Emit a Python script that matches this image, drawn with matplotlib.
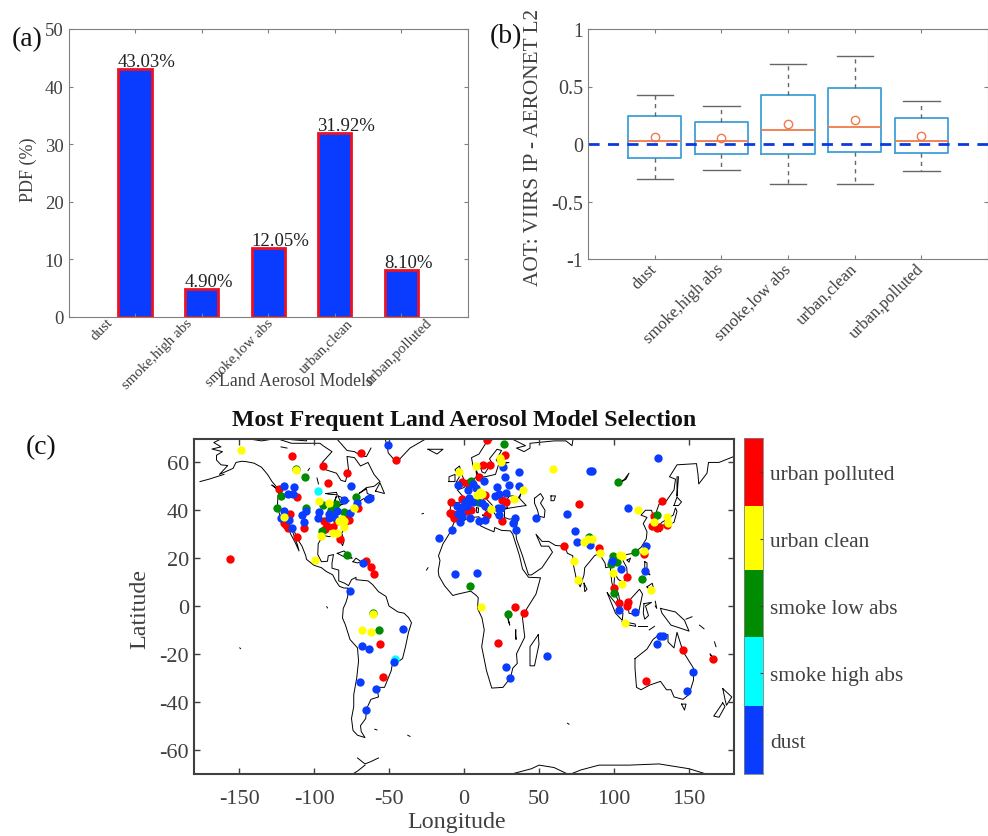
import matplotlib
matplotlib.use("Agg")
import matplotlib.pyplot as plt
from matplotlib.colors import ListedColormap

plt.rcParams['font.family'] = ['Liberation Serif', 'DejaVu Serif']
plt.rcParams['axes.unicode_minus'] = False

W, H = 988, 837

# panel (a)
models = ['dust', 'smoke,high abs', 'smoke,low abs', 'urban,clean', 'urban,polluted']
pdf_vals = [43.03, 4.90, 12.05, 31.92, 8.10]
# the labels in (a) do not sit on their ticks in the original
label_x = [0.77, 1.97, 3.17, 4.37, 5.57]

# panel (b): whisker low, q1, median, q3, whisker high, mean
wlo = [-0.30, -0.23, -0.345, -0.348, -0.232]
q1 = [-0.12, -0.09, -0.087, -0.072, -0.08]
med = [0.03, 0.023, 0.12, 0.15, 0.026]
q3 = [0.24, 0.19, 0.43, 0.49, 0.223]
whi = [0.426, 0.333, 0.696, 0.768, 0.374]
means = [0.06, 0.05, 0.174, 0.21, 0.07]

# panel (c): site lon/lat per most frequent model
red_lon = [-114.9, -68.7, -45.6, -94, -78, -90.4, -123.6, -111.3, -70.4, -116.2, -120.2, -118.7, -117.6, -106.7,
           -111.6, -76.7, -93.3, -91.1, -92.4, -87.1, -82.7, -155.8, -65.6, -61.8, -59.8, -56.2, -54.2, -77.5, -85,
           15.6, 27.3, 12.9, 17.1, 9.8, -1.6, 2.4, 14, 25.6, 28, -1.6, -8.7, 4.7, 1.8, -9.3, -7.6, -6.7, 15.1, 25.3,
           76.7, 131.8, 126.7, 125.1, 128.4, 130.2, 135.1, 66.7, 90.2, 120, 108.9, 100.2, 103.6, 109.6, 108.9,
           33.8, 40, 22.9, 146, 166, 121.6]
red_lat = [62.5, 63.9, 61.2, 58.7, 55.4, 51.5, 48.8, 45.7, 41.1, 38.5, 34.6, 34, 32.8, 32.6,
           29, 36, 35.7, 33.6, 32.2, 33.2, 27.8, 19.7, 18.6, 16.3, 13.2, -15.8, -29.6, 38.5, 35.5,
           69.4, 63, 58.8, 58.8, 53.8, 52, 51.5, 46.4, 44.5, 43.4, 44.8, 43.4, 40.3, 39.6, 38.9, 38.5, 36.8, 38.2, 35.4,
           42.8, 43.7, 37.8, 33.6, 32.6, 32.9, 33.9, 25, 24.1, 21.8, 12.1, 7.7, 1.4, 1.5, -0.1,
           -0.6, -3.1, -15.3, -18.5, -22.3, -31.4]

yel_lon = [-148.9, -111.8, -96.9, -89.8, -73.3, -119.8, -81.1, -83.3, -79.8, -80, -87.6, -84.7, -95.3, -99.6,
           -60.9, -68.2, -62.2, -3.5, 8, 24, 24.4, 59.1, 10.7, 8.4, 11.8, 33.3, 39.3, 17.8,
           116, 135.1, 126.7, 135.8, 80, 82.9, 85.3, 90.4, 73.3, 104, 105.6, 120.2, 99.6, 105.3, 124.4, 76.2, 107.3, 11.4]
yel_lat = [65, 56.8, 43.8, 43.1, 41.1, 37.1, 36.4, 35.4, 35.4, 32.9, 30.5, 30.5, 29.4, 19.4,
           -3.2, -9.9, -10.9, 56.1, 58.5, 62, 60.3, 57.2, 47.8, 46.4, 46.9, 44.8, 48.5, 40.4,
           40.2, 37.4, 35.3, 34.7, 26.6, 27.8, 27.8, 22.2, 18.7, 21.3, 21, 23.1, 13.8, 9.2, 6.7, 10.9, -7.1, -0.3]

grn_lon = [-111.8, -106.2, -121.8, -124.4, -72.2, -94, -85.6, -88.7, -105.1, -80, -94.9, -78, -60.4, -56.4,
           26.5, 4.4, 9.1, 102.9, 128.7, 83.3, 114, 99.6, 102.2, 97.8, 118.9, 100, 4.2, 29.1]
grn_lat = [57.3, 54.1, 45.9, 41.1, 45.6, 42.3, 42.5, 40.2, 40.9, 39.2, 31.5, 21.5, -2.9, -9.9,
           67.5, 52.4, 43.4, 52, 38.1, 28.7, 22.6, 21, 18.3, 17.6, 11.3, 5.4, 8.4, -3.3]

cyn_lon = [-97.6, -45.8]
cyn_lat = [48.1, -22.3]

blu_lon = [-50.9, -75.1, -119.8, -113.1, -117.1, -114.2, -64, -63, -80, -71.3, -84.4, -105.1, -108.2, -120.2,
           -122.2, -116.4, -114.9, -106.9, -96.7, -97.6, -90.2, -89.8, -86.4, -76.2, -67.3, -75.8, -40.7, -68.2, -63.6,
           -46.9, -69.6, -58.7, -65.6,
           25.8, 27.3, 36.7, 84.2, 85.2, 129.1, 13.5, -4, 6.2, 7.8, 2.4, 21.8, 30.2, 36.7, 28, 23.3, 20.7,
           -4.9, -1.6, 0.7, 3.6, 1.8, 6.2, 11.8, 14, -2.7, -3.8, -1.6, -2.7, 22.9, 24.7, 23.3, 4, 10, 14, 34, 32.9, 34.7,
           48.2, -8.2, -16.7, 68.7, 109.3, 74, 75.6, 84, 121.1, 98.4, 104.4, 120.7, 103.3, 113.8,
           -6.2, 8.7, 55.3, 28, 30.7, 130.7, 132.9, 128.4, 152.7, 148.7]
blu_lat = [67.1, 50, 50.1, 49.8, 46.7, 47, 44.8, 45.2, 44.4, 43.1, 39.9, 39.9, 38, 39.6,
           36.7, 35.8, 32.5, 35, 39.2, 36.7, 38.5, 36.8, 37.4, 38.9, 18, 6.3, -9.5, -16.6, -17.9,
           -23.6, -31.9, -34.7, -43.4,
           58.2, 54, 55.8, 56.6, 56.6, 61.8, 52.2, 50.6, 51, 49.2, 48.5, 49.9, 50.5, 50.1, 47.1, 46.9, 45.9,
           42, 41.3, 43.4, 45, 42, 43.6, 42.9, 42, 39.9, 38.5, 37.8, 35, 40.9, 41, 38.1, 36.8, 35.7, 36, 36.7, 34.7, 31.9,
           36.7, 31.8, 28.4, 38.6, 40.9, 31.5, 26.9, 25.7, 25.1, 18.8, 15.3, 14.6, -1.8, -2.4,
           13.2, 13.8, -20.9, -25.7, -30, -12.4, -12.7, -16, -27.6, -35.4]

cbar_labels = ['dust', 'smoke high abs', 'smoke low abs', 'urban clean', 'urban polluted']
cbar_edges = [0.5, 1.516, 2.54, 3.54, 4.49, 5.5]

# coastlines, rough outlines
americas = [(-141, 69.6), (-148, 70.4), (-156.5, 71.3), (-163, 69.5), (-166.8, 68.3), (-162, 66.5), (-168, 65.6),
            (-161, 64.5), (-165, 63), (-165, 61), (-162, 59), (-157.5, 58.7), (-163, 55), (-154, 57.5), (-152, 60),
            (-148, 60.5), (-145, 60.3), (-140, 59.7), (-135, 58), (-131, 55), (-128, 52), (-125, 49.8), (-123, 48.5),
            (-124, 46), (-124.3, 43), (-124, 40.3), (-122.5, 37.5), (-120.6, 34.5), (-117.3, 33), (-115.5, 30),
            (-112.5, 26.5), (-110, 23), (-111, 25.5), (-112.5, 28), (-114.5, 31.5), (-113, 31), (-110.5, 27.5),
            (-108, 25), (-105.5, 21), (-105, 19.5), (-100, 17), (-95, 16), (-92, 14.5), (-87.5, 13), (-85.5, 10.5),
            (-83, 8.2), (-80, 7.5), (-77.5, 7.5), (-77.5, 4), (-78.7, 1.5), (-80.5, -1), (-81, -5), (-79, -8),
            (-76, -14), (-71, -17.5), (-70.3, -23), (-71.5, -30), (-73.5, -37), (-73.5, -42), (-75, -47), (-74, -52),
            (-71, -54), (-66, -55), (-68.5, -52.5), (-69, -50), (-65.5, -47), (-65, -43), (-62, -39), (-57, -38),
            (-58, -34), (-53, -34), (-48.5, -27), (-48, -25), (-41, -22), (-39, -17), (-37, -11), (-35, -7),
            (-37, -4.8), (-40, -3), (-44, -2.5), (-50, 0), (-52, 4), (-57, 6), (-61, 9), (-64, 10.5), (-72, 11),
            (-72, 12), (-75, 11), (-77, 8.5), (-79.5, 9.5), (-83.5, 10.5), (-83.5, 15), (-88, 15.8), (-88, 18),
            (-87, 21.5), (-90.5, 21), (-91, 18.7), (-95, 18.5), (-97.5, 21.5), (-97.2, 26), (-94, 29.5), (-90, 29),
            (-85, 29.8), (-82.8, 28), (-81, 25.2), (-80, 27), (-81.5, 30.5), (-79, 33), (-76, 35), (-76, 38),
            (-74, 40.5), (-70, 41.7), (-70.5, 43.5), (-66.5, 45), (-66, 43.8), (-60, 46), (-64.5, 47), (-65, 49),
            (-70, 47), (-65, 49.5), (-60, 50), (-56, 52), (-60, 55), (-64, 60), (-69, 58.5), (-73, 62), (-78, 62.5),
            (-77, 57), (-79, 52), (-82, 52.5), (-85, 55.5), (-92.5, 57), (-94.5, 60), (-88, 64.5), (-94, 67), (-96, 68),
            (-108, 68), (-115, 68), (-125, 70), (-135, 69), (-141, 69.6)]
greenland = [(-53, 71), (-51, 66), (-50.5, 64), (-45, 60), (-42, 62), (-36, 66), (-25, 70), (-22, 72)]
baffin = [(-62, 66), (-65, 62.5), (-68, 62.5), (-73, 64.5), (-78, 65), (-85, 70), (-88, 72)]
victoria = [(-105, 71), (-105, 69), (-115, 69.5), (-117, 71)]
newfoundland = [(-59, 48), (-56, 51.5), (-53, 47), (-59, 48)]
vancouver = [(-128, 50.5), (-123.5, 48.5), (-125, 49), (-128, 50.5)]
cuba = [(-84.5, 22), (-80, 23), (-74.5, 20), (-78, 20), (-84.5, 22)]
hispaniola = [(-74, 18.5), (-72, 20), (-68.5, 18.5), (-71, 18), (-74, 18.5)]
africa = [(-6, 35.8), (-2, 35), (3, 36.8), (10, 37.3), (11, 33.5), (15, 32.3), (20, 31), (20.5, 32.8), (25, 31.6),
          (31, 31.4), (32.5, 30), (34, 27), (37, 21), (39, 15.5), (43, 12), (51, 11.8), (48, 5), (42, -1), (39, -5),
          (40.5, -13), (35, -20), (35.5, -24), (32.5, -26), (31, -30), (26, -34), (18.5, -34.3), (15, -27), (11.8, -17),
          (13.5, -10), (12, -5), (9, -1), (9.5, 3.5), (8, 4.5), (4.5, 6.2), (-4, 5), (-7.5, 4.4), (-13, 8.5),
          (-16.7, 12.5), (-17.2, 14.7), (-16, 19), (-17, 21), (-14, 26), (-10, 30), (-6, 35.8)]
eurasia = [(180, 62.5), (170, 60), (163, 60), (162, 55.5), (156.5, 51), (156, 55), (155, 59.5), (142, 59), (137, 54),
           (141, 53), (140, 48.5), (135, 44), (130, 42.5), (128, 39), (129, 35.5), (126, 34.5), (126.5, 37), (125, 40),
           (121, 40), (118, 38), (122, 37), (119.5, 34.5), (122, 31), (121.5, 28), (118, 24.5), (113, 22), (108, 21.5),
           (106, 19), (108.5, 16), (109, 11.5), (106, 10), (103, 11), (100.5, 13.5), (100, 9), (103, 5), (104, 1.5),
           (103, 2), (100, 6), (98.5, 10), (97.5, 16.5), (94.5, 16), (94, 18), (90, 22), (87, 21), (80.5, 16), (80, 13),
           (77.5, 8), (75, 11), (73, 17), (72.5, 21), (69, 22), (67, 25), (61, 25.3), (56.5, 27), (52, 27), (48, 30),
           (51.5, 25), (56.5, 25), (59, 22.5), (52, 16), (45, 13), (43, 13), (39, 21), (35, 28), (34.5, 31), (35, 33),
           (36, 36.5), (30, 36.3), (27, 37), (27, 40.5), (31, 41), (36, 41.5), (41.5, 42), (37, 45), (38, 47), (36, 45),
           (33.5, 44.5), (33, 46), (30.5, 46), (28.5, 44.5), (28, 43), (29, 41), (26, 41), (23, 40.5), (24, 38), (23, 36.5),
           (20, 39), (19, 42), (13.5, 45.7), (13, 44), (18.5, 40), (16, 40), (16, 38.5), (12.5, 41.5), (10.5, 43), (7, 43.7),
           (3.5, 43.5), (3, 42), (0, 39), (-2, 36.8), (-6, 36), (-9.3, 37), (-9, 43), (-1.5, 43.5), (-1, 46), (-4.5, 48.5),
           (0, 49.5), (4, 52), (8.5, 54), (8, 57), (10, 54), (14, 54), (21, 55), (23, 59), (30, 60), (23, 60), (21.5, 61),
           (25, 65), (22, 65.5), (17, 61.5), (18.5, 60), (14, 55.5), (12, 56), (10.5, 59), (6, 58.5), (5, 62), (10, 63.5),
           (15, 68.5), (25, 71), (33, 69.5), (41, 67), (35, 66), (40, 64.5), (44, 66), (44, 68), (60, 69), (68, 69),
           (72, 67), (73, 71), (80, 72)]
australia = [(114, -22), (122, -18), (126, -14), (130, -12), (136, -12), (136, -15), (140, -17.5), (142, -11), (146, -19),
             (153, -26), (153, -31), (150, -37), (146, -39), (140, -38), (138, -35), (135, -35), (131, -31.5), (124, -33),
             (118, -35), (115, -34), (114, -26), (114, -22)]
islands = [
    [(-5, 50), (1, 51.3), (-1.5, 55), (-3, 58.5), (-6, 57), (-3, 54), (-5, 52), (-5, 50)],
    [(-10, 52), (-6, 52), (-6, 55), (-10, 54), (-10, 52)],
    [(-24, 65.5), (-14, 65.5), (-18, 63.5), (-24, 65.5)],
    [(12.5, 38), (15.5, 38), (15, 36.8), (12.5, 38)],
    [(8.3, 41), (9.7, 41), (9.5, 39), (8.5, 39), (8.3, 41)],
    [(23.5, 35.5), (26, 35.2), (24, 35), (23.5, 35.5)],
    [(49.5, -12), (50, -16), (47, -25), (44, -25), (44, -17), (49.5, -12)],
    [(80, 9.5), (82, 7), (80.5, 6), (80, 9.5)],
    [(95.5, 5.5), (100, 2), (106, -3), (105.5, -6), (101, -3), (95.5, 5.5)],
    [(105.5, -6.5), (114, -7.5), (114.5, -8.5), (106, -7.5), (105.5, -6.5)],
    [(109, 1.5), (117, 7), (119, 5), (117.5, 0.5), (116, -4), (110, -3), (109, 1.5)],
    [(120, 1), (125, 1.5), (121, 0), (123, -4), (120.5, -5.5), (119.5, -3), (120, 1)],
    [(120.5, 18.5), (122, 18), (122, 15), (124, 13), (120.5, 14), (120.5, 18.5)],
    [(122, 8), (125.5, 9.5), (126.5, 7), (125, 6), (122, 8)],
    [(120, 23), (121.5, 25), (121, 22), (120, 23)],
    [(108.7, 19.2), (111, 20), (110, 18.3), (108.7, 19.2)],
    [(131, -1), (141, -2.5), (147, -6), (150, -10.5), (143, -9), (138, -8), (132, -3), (131, -1)],
    [(145, -41), (148, -41), (147, -43.5), (145, -41)],
    [(172.5, -34.5), (178.5, -38), (175, -41.5), (174, -39), (172.5, -34.5)],
    [(172.5, -40.5), (174, -42), (170, -46.5), (166.5, -46), (172.5, -40.5)],
    [(130.5, 34), (136, 33.5), (140, 35), (142, 39.5), (141, 41), (139.5, 38), (136, 36.5), (132, 35), (130.5, 34)],
    [(130, 33), (132, 33), (131, 31), (130, 33)],
    [(140, 42), (142, 45.5), (145, 43.5), (143, 42), (140, 42)],
    [(142, 46), (143, 54), (142, 54), (142, 46)],
    [(165, -21), (167, -22.5), (164, -20), (165, -21)],
    [(-156, 20), (-155, 19.5), (-155.7, 19), (-156, 20)],
    [(-160, 55), (-165, 54), (-170, 53), (-176, 52)],
    [(-71, -63.5), (-66, -66), (-62, -65), (-57, -63.5)],
    [(-75, -70.5), (-71, -69), (-66, -66.5)],
    [(33, -70), (45, -68), (50, -66.5), (60, -67.5), (70, -70.5), (78, -68.5), (90, -66.5), (110, -66.5), (130, -66),
     (150, -68), (163, -70.5)],
    [(47, 45), (51, 47), (53, 45), (51, 43), (54, 40), (53.5, 37), (50, 37.5), (49, 40), (47, 43), (47, 45)],
    [(58, 46), (61, 46), (60, 44), (58, 44), (58, 46)],
    [(104, 51.5), (107, 53), (110, 55.5), (108, 53), (104, 51.5)],
    [(-92, 47), (-85, 47.5), (-84.5, 46.5), (-90, 46.7), (-92, 47)],
    [(-87.5, 42), (-85, 46), (-86.5, 43), (-87.5, 42)],
    [(-84, 46), (-80, 45), (-82, 43), (-84, 46)],
    [(-83, 42), (-79, 43), (-76.5, 44), (-79.5, 43.5), (-83, 42)],
    [(29, -4), (30.5, -8), (29.5, -6), (29, -4)],
    [(34.5, -10), (34.7, -14), (34.3, -12), (34.5, -10)],
    [(-122, 66.5), (-118, 66)],
    [(-104, 56.6), (-103, 57.5)],
    [(-98, 53.5), (-97, 51)],
    [(123.5, -10), (127, -8.5)],
    [(116, -8.5), (122, -8.5)],
    [(148, -5.5), (152, -4.5)],
    [(157, -8), (160, -9.5)],
    [(167, -15), (168, -17)],
    [(127.5, 2), (128.5, -1), (127.5, 0)],
    [(-91.5, -0.3), (-91, -0.8)],
    [(-149.5, -17.5), (-149, -17.8)],
    [(-59.5, -51.5), (-58, -51.8)],
    [(-37.5, -54), (-36, -54.5)],
    [(-28, 38.5), (-27, 38.7)],
    [(-25, 15), (-24, 16)],
    [(69, -49), (70, -49.4)],
    [(-16.5, 28), (-15.5, 28.3)],
]
coasts = [americas, greenland, baffin, victoria, newfoundland, vancouver, cuba, hispaniola, africa, eurasia, australia] + islands


def panel(l, t, r, b):
    return fig.add_axes([l / W, 1 - b / H, (r - l) / W, (b - t) / H])


fig = plt.figure(figsize=(W / 100, H / 100), dpi=100)
grey = '#404040'

# (a) bars
ax = panel(68.5, 30, 468, 318)
x = list(range(1, 6))
ax.bar(x, pdf_vals, width=0.5, color='#0a3cff', edgecolor='#ee1122', linewidth=2)
for xi, v in zip(x, pdf_vals):
    ax.text(xi - 0.26, v - 0.2, '%.2f%%' % v, fontsize=13.5, ha='left', va='bottom', color='#222222')
ax.set_xlim(0, 6)
ax.set_ylim(0, 50)
ax.set_yticks([0, 10, 20, 30, 40, 50])
ax.set_xticks(x)
ax.set_xticklabels([])
for xi, lab in zip(label_x, models):
    ax.annotate(lab, (xi, 0), xytext=(-10, 1), textcoords='offset points', rotation=45, rotation_mode='anchor',
                ha='right', va='top', fontsize=10.8, color=grey)
ax.tick_params(axis='both', direction='in', length=3, top=True, right=True, color='#808080', labelcolor=grey,
               labelsize=13.5, width=0.8)
for s in ax.spines.values():
    s.set_color('#808080')
fig.text(296 / W, 1 - 382 / H, 'Land Aerosol Models', fontsize=12.8, ha='center', va='center', color=grey)
fig.text(28 / W, 1 - 170 / H, 'PDF (%)', fontsize=13, rotation=90, ha='center', va='center', color=grey)

# (b) boxes
ax = panel(588, 30, 988, 260)
stats = []
for i in range(5):
    stats.append(dict(label=models[i], whislo=wlo[i], q1=q1[i], med=med[i], q3=q3[i], whishi=whi[i], mean=means[i], fliers=[]))
ax.bxp(stats, positions=x, widths=0.8, showmeans=True, showfliers=False,
       boxprops=dict(color='#3f9fd8', linewidth=1.3),
       medianprops=dict(color='#f0784a', linewidth=1.3),
       whiskerprops=dict(color='#666666', linewidth=1, linestyle=(0, (3, 3))),
       capprops=dict(color='#666666', linewidth=1),
       capwidths=0.545,
       meanprops=dict(marker='o', markerfacecolor='none', markeredgecolor='#f0784a', markersize=6, markeredgewidth=1))
ax.axhline(0, color='#0a3adf', linewidth=2, linestyle=(0, (4, 3)))
ax.set_xlim(0, 6)
ax.set_ylim(-1, 1)
ax.set_yticks([-1, -0.5, 0, 0.5, 1])
ax.set_yticklabels(['-1', '-0.5', '0', '0.5', '1'])
ax.set_xticks(x)
ax.set_xticklabels([])
for xi, lab in zip(x, models):
    ax.annotate(lab, (xi, -1), xytext=(-4, -1), textcoords='offset points', rotation=45, rotation_mode='anchor',
                ha='right', va='top', fontsize=12.2, color=grey)
ax.tick_params(axis='both', direction='in', length=3, top=True, right=True, color='#808080', labelcolor=grey,
               labelsize=14.4, width=0.8)
for s in ax.spines.values():
    s.set_color('#808080')
fig.text(533 / W, 1 - 148 / H, 'AOT: VIIRS IP - AERONET L2', fontsize=15.3, rotation=90, ha='center', va='center', color=grey)

# (c) map
ax = panel(194, 439.5, 734, 774.5)
for c in coasts:
    ax.plot([p[0] for p in c], [p[1] for p in c], color='black', linewidth=0.7, zorder=1)
ms = 36
ax.scatter(red_lon, red_lat, s=ms, color='#ff0000', linewidths=0, zorder=2)
ax.scatter(grn_lon, grn_lat, s=ms, color='#008c00', linewidths=0, zorder=3)
ax.scatter(cyn_lon, cyn_lat, s=ms, color='#00ffff', linewidths=0, zorder=3)
ax.scatter(blu_lon, blu_lat, s=ms, color='#0a3cff', linewidths=0, zorder=4)
ax.scatter(yel_lon, yel_lat, s=ms, color='#ffff00', linewidths=0, zorder=5)
ax.set_xlim(-180, 180)
ax.set_ylim(-70, 70)
ax.set_xticks([-150, -100, -50, 0, 50, 100, 150])
ax.set_yticks([-60, -40, -20, 0, 20, 40, 60])
ax.tick_params(axis='both', direction='in', length=4, top=True, right=True, color=grey, labelcolor=grey, labelsize=16, width=1)
ax.tick_params(axis='x', pad=11)
for s in ax.spines.values():
    s.set_color(grey)
    s.set_linewidth(1.5)
fig.text(464 / W, 1 - 421 / H, 'Most Frequent Land Aerosol Model Selection', fontsize=17.2, fontweight='bold', ha='center', va='center', color='#111111')
fig.text(457 / W, 1 - 823 / H, 'Longitude', fontsize=17.3, ha='center', va='center', color=grey)
fig.text(140 / W, 1 - 609 / H, 'Latitude', fontsize=17.3, rotation=90, ha='center', va='center', color=grey)

# colour scale next to the map
cax = panel(744, 439, 763, 775)
cm = ListedColormap(['#0a3cff', '#00ffff', '#008c00', '#ffff00', '#ff0000'])
cax.pcolormesh([0, 1], cbar_edges, [[0], [1], [2], [3], [4]], cmap=cm, vmin=0, vmax=4)
cax.set_xticks([])
cax.yaxis.tick_right()
cax.set_yticks([1, 2, 3, 4, 5])
cax.set_yticklabels(cbar_labels)
cax.tick_params(axis='y', direction='in', length=2, color=grey, labelcolor=grey, labelsize=15.4, pad=5)
for s in cax.spines.values():
    s.set_color('#808080')
    s.set_linewidth(0.6)

# panel letters
fig.text(12 / W, 1 - 40 / H, '(a)', fontsize=20, ha='left', va='center', color='#111111')
fig.text(490 / W, 1 - 37 / H, '(b)', fontsize=20, ha='left', va='center', color='#111111')
fig.text(26 / W, 1 - 448 / H, '(c)', fontsize=20, ha='left', va='center', color='#111111')

fig.savefig('out.png', dpi=100)
